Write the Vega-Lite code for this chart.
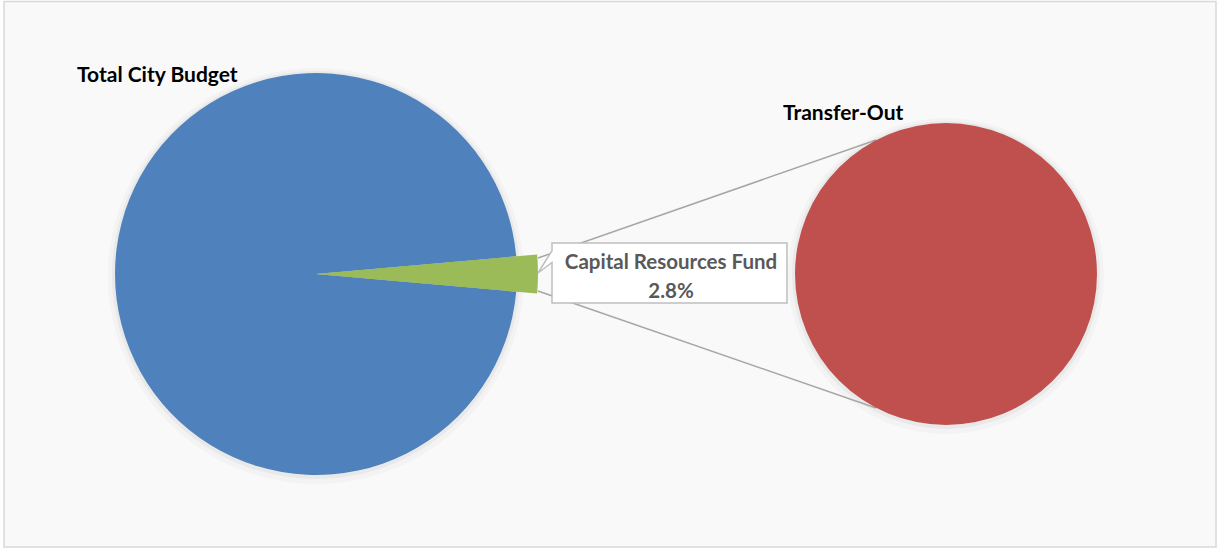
{
  "$schema": "https://vega.github.io/schema/vega-lite/v6.json",
  "width": 1222,
  "height": 550,
  "padding": 0,
  "autosize": {"type": "fit", "contains": "padding"},
  "background": "white",
  "config": {"view": {"stroke": null}},
  "datasets": {
    "slices": [
      {"pie": "Total City Budget", "segment": "Capital Resources Fund", "share": 0.028},
      {"pie": "Total City Budget", "segment": "Other", "share": 0.972},
      {"pie": "Transfer-Out", "segment": "Transfer-Out", "share": 1.0}
    ]
  },
  "resolve": {"scale": {"theta": "independent"}},
  "layer": [
    {
      "data": {"values": [{}]},
      "mark": {"type": "rect", "fill": "#f9f9f9", "stroke": "#d9d9d9", "strokeWidth": 1.5},
      "encoding": {
        "x": {"datum": 4, "type": "quantitative", "axis": null, "scale": {"domain": [0, 1222], "nice": false, "zero": false}},
        "x2": {"datum": 1216},
        "y": {"datum": 1.5, "type": "quantitative", "axis": null, "scale": {"domain": [0, 550], "nice": false, "zero": false, "reverse": true}},
        "y2": {"datum": 547}
      }
    },
    {
      "data": {"values": [{}]},
      "mark": {"type": "arc", "radius": 208, "theta": 0, "theta2": 6.2832, "fill": "#000000", "opacity": 0.025},
      "encoding": {
        "x": {"datum": 316, "type": "quantitative", "axis": null, "scale": {"domain": [0, 1222], "nice": false, "zero": false}},
        "y": {"datum": 276, "type": "quantitative", "axis": null, "scale": {"domain": [0, 550], "nice": false, "zero": false, "reverse": true}}
      }
    },
    {
      "data": {"values": [{}]},
      "mark": {"type": "arc", "radius": 204, "theta": 0, "theta2": 6.2832, "fill": "#000000", "opacity": 0.04},
      "encoding": {
        "x": {"datum": 316, "type": "quantitative", "axis": null, "scale": {"domain": [0, 1222], "nice": false, "zero": false}},
        "y": {"datum": 275, "type": "quantitative", "axis": null, "scale": {"domain": [0, 550], "nice": false, "zero": false, "reverse": true}}
      }
    },
    {
      "data": {"values": [{}]},
      "mark": {"type": "arc", "radius": 158, "theta": 0, "theta2": 6.2832, "fill": "#000000", "opacity": 0.025},
      "encoding": {
        "x": {"datum": 946, "type": "quantitative", "axis": null, "scale": {"domain": [0, 1222], "nice": false, "zero": false}},
        "y": {"datum": 276, "type": "quantitative", "axis": null, "scale": {"domain": [0, 550], "nice": false, "zero": false, "reverse": true}}
      }
    },
    {
      "data": {"values": [{}]},
      "mark": {"type": "arc", "radius": 154, "theta": 0, "theta2": 6.2832, "fill": "#000000", "opacity": 0.04},
      "encoding": {
        "x": {"datum": 946, "type": "quantitative", "axis": null, "scale": {"domain": [0, 1222], "nice": false, "zero": false}},
        "y": {"datum": 275, "type": "quantitative", "axis": null, "scale": {"domain": [0, 550], "nice": false, "zero": false, "reverse": true}}
      }
    },
    {
      "data": {"name": "slices"},
      "transform": [{"filter": "datum.pie === 'Total City Budget'"}],
      "mark": {"type": "arc", "radius": 201},
      "encoding": {
        "x": {"datum": 316, "type": "quantitative", "axis": null, "scale": {"domain": [0, 1222], "nice": false, "zero": false}},
        "y": {"datum": 274, "type": "quantitative", "axis": null, "scale": {"domain": [0, 550], "nice": false, "zero": false, "reverse": true}},
        "theta": {"field": "share", "type": "quantitative", "stack": true, "scale": {"domain": [0, 1], "range": [1.4828, 7.766], "zero": true, "nice": false}},
        "order": {"field": "share", "type": "quantitative", "sort": "ascending"},
        "color": {"field": "segment", "type": "nominal", "legend": null, "scale": {"domain": ["Capital Resources Fund", "Other"], "range": ["#9BBB59", "#4F81BD"]}}
      }
    },
    {
      "data": {"name": "slices"},
      "transform": [{"filter": "datum.pie === 'Total City Budget'"}],
      "mark": {"type": "arc", "radius": 222},
      "encoding": {
        "x": {"datum": 316, "type": "quantitative", "axis": null, "scale": {"domain": [0, 1222], "nice": false, "zero": false}},
        "y": {"datum": 274, "type": "quantitative", "axis": null, "scale": {"domain": [0, 550], "nice": false, "zero": false, "reverse": true}},
        "theta": {"field": "share", "type": "quantitative", "stack": true, "scale": {"domain": [0, 1], "range": [1.4828, 7.766], "zero": true, "nice": false}},
        "order": {"field": "share", "type": "quantitative", "sort": "ascending"},
        "color": {"field": "segment", "type": "nominal", "legend": null, "scale": {"domain": ["Capital Resources Fund", "Other"], "range": ["#9BBB59", "#4F81BD"]}},
        "opacity": {"condition": {"test": "datum.segment === 'Other'", "value": 0}, "value": 1}
      }
    },
    {
      "data": {"values": [{}]},
      "mark": {"type": "rule", "color": "#a6a6a6", "strokeWidth": 1.5},
      "encoding": {
        "x": {"datum": 538, "type": "quantitative", "axis": null, "scale": {"domain": [0, 1222], "nice": false, "zero": false}},
        "x2": {"datum": 876},
        "y": {"datum": 258, "type": "quantitative", "axis": null, "scale": {"domain": [0, 550], "nice": false, "zero": false, "reverse": true}},
        "y2": {"datum": 140}
      }
    },
    {
      "data": {"values": [{}]},
      "mark": {"type": "rule", "color": "#a6a6a6", "strokeWidth": 1.5},
      "encoding": {
        "x": {"datum": 538, "type": "quantitative", "axis": null, "scale": {"domain": [0, 1222], "nice": false, "zero": false}},
        "x2": {"datum": 876},
        "y": {"datum": 291, "type": "quantitative", "axis": null, "scale": {"domain": [0, 550], "nice": false, "zero": false, "reverse": true}},
        "y2": {"datum": 408}
      }
    },
    {
      "data": {"name": "slices"},
      "transform": [{"filter": "datum.pie === 'Transfer-Out'"}],
      "mark": {"type": "arc", "radius": 151, "color": "#C0504D"},
      "encoding": {
        "x": {"datum": 946, "type": "quantitative", "axis": null, "scale": {"domain": [0, 1222], "nice": false, "zero": false}},
        "y": {"datum": 274, "type": "quantitative", "axis": null, "scale": {"domain": [0, 550], "nice": false, "zero": false, "reverse": true}},
        "theta": {"field": "share", "type": "quantitative", "stack": true, "scale": {"domain": [0, 1], "range": [0, 6.2832], "zero": true, "nice": false}}
      }
    },
    {
      "data": {"values": [{}]},
      "mark": {
        "type": "point",
        "shape": "M -1 -0.2553 L 1 -0.2553 L 1 0.2553 L -1 0.2553 L -1 -0.09 L -1.119 0 L -1 -0.19 Z",
        "size": 55225,
        "filled": true,
        "fill": "#ffffff",
        "stroke": "#bfbfbf",
        "strokeWidth": 1.5,
        "opacity": 1
      },
      "encoding": {
        "x": {"datum": 669.5, "type": "quantitative", "axis": null, "scale": {"domain": [0, 1222], "nice": false, "zero": false}},
        "y": {"datum": 273, "type": "quantitative", "axis": null, "scale": {"domain": [0, 550], "nice": false, "zero": false, "reverse": true}}
      }
    },
    {
      "data": {"name": "slices"},
      "transform": [{"filter": "datum.segment === 'Capital Resources Fund'"}],
      "mark": {"type": "text", "font": "Lato", "fontWeight": "bold", "fontSize": 20.5, "color": "#595959", "align": "center", "baseline": "alphabetic"},
      "encoding": {
        "x": {"datum": 671, "type": "quantitative", "axis": null, "scale": {"domain": [0, 1222], "nice": false, "zero": false}},
        "y": {"datum": 269, "type": "quantitative", "axis": null, "scale": {"domain": [0, 550], "nice": false, "zero": false, "reverse": true}},
        "text": {"field": "segment", "type": "nominal"}
      }
    },
    {
      "data": {"name": "slices"},
      "transform": [{"filter": "datum.segment === 'Capital Resources Fund'"}],
      "mark": {"type": "text", "font": "Lato", "fontWeight": "bold", "fontSize": 20.5, "color": "#595959", "align": "center", "baseline": "alphabetic"},
      "encoding": {
        "x": {"datum": 671, "type": "quantitative", "axis": null, "scale": {"domain": [0, 1222], "nice": false, "zero": false}},
        "y": {"datum": 298, "type": "quantitative", "axis": null, "scale": {"domain": [0, 550], "nice": false, "zero": false, "reverse": true}},
        "text": {"field": "share", "type": "quantitative", "format": ".1%"}
      }
    },
    {
      "data": {"name": "slices"},
      "transform": [{"filter": "datum.pie === 'Total City Budget' && datum.segment === 'Other'"}],
      "mark": {"type": "text", "font": "Lato", "fontWeight": "bold", "fontSize": 21, "color": "#000000", "align": "left", "baseline": "alphabetic"},
      "encoding": {
        "x": {"datum": 77, "type": "quantitative", "axis": null, "scale": {"domain": [0, 1222], "nice": false, "zero": false}},
        "y": {"datum": 82, "type": "quantitative", "axis": null, "scale": {"domain": [0, 550], "nice": false, "zero": false, "reverse": true}},
        "text": {"field": "pie", "type": "nominal"}
      }
    },
    {
      "data": {"name": "slices"},
      "transform": [{"filter": "datum.pie === 'Transfer-Out'"}],
      "mark": {"type": "text", "font": "Lato", "fontWeight": "bold", "fontSize": 21, "color": "#000000", "align": "left", "baseline": "alphabetic"},
      "encoding": {
        "x": {"datum": 783, "type": "quantitative", "axis": null, "scale": {"domain": [0, 1222], "nice": false, "zero": false}},
        "y": {"datum": 120, "type": "quantitative", "axis": null, "scale": {"domain": [0, 550], "nice": false, "zero": false, "reverse": true}},
        "text": {"field": "pie", "type": "nominal"}
      }
    }
  ]
}
